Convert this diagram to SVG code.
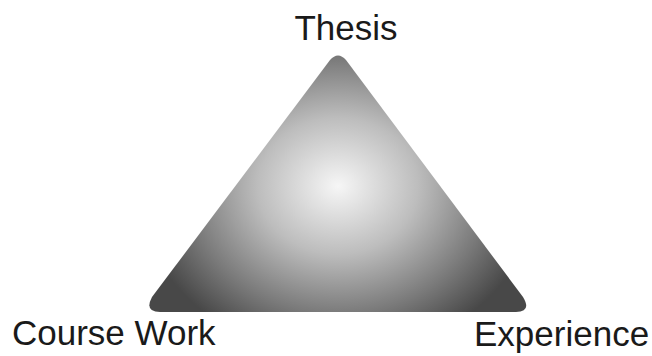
<svg xmlns="http://www.w3.org/2000/svg" width="652" height="356" viewBox="0 0 652 356">
<style>
.lbl{font-family:"Liberation Sans",Arial,sans-serif;font-size:35px;fill:#1a1a1a}
</style>
<defs>
<radialGradient id="g" cx="338" cy="186" r="200" gradientUnits="userSpaceOnUse" gradientTransform="translate(338 186) scale(1 0.85) translate(-338 -186)">
<stop offset="0" stop-color="#f6f6f6"/>
<stop offset="0.4" stop-color="#bdbdbd"/>
<stop offset="0.75" stop-color="#7a7a7a"/>
<stop offset="1" stop-color="#484848"/>
</radialGradient>
</defs>
<rect width="652" height="356" fill="#ffffff"/>
<g id="triangle">
<path d="M330,60 Q338,51 346,60 L523,297 Q532,312 516,312 L160,312 Q144,312 152,297 Z" fill="url(#g)"/>
</g>
<g id="thesis"><text class="lbl" x="346" y="40" text-anchor="middle">Thesis</text></g>
<g id="coursework"><text class="lbl" x="12" y="345">Course Work</text></g>
<g id="experience"><text class="lbl" x="474" y="346">Experience</text></g>
<g id="connectors"/>
</svg>
